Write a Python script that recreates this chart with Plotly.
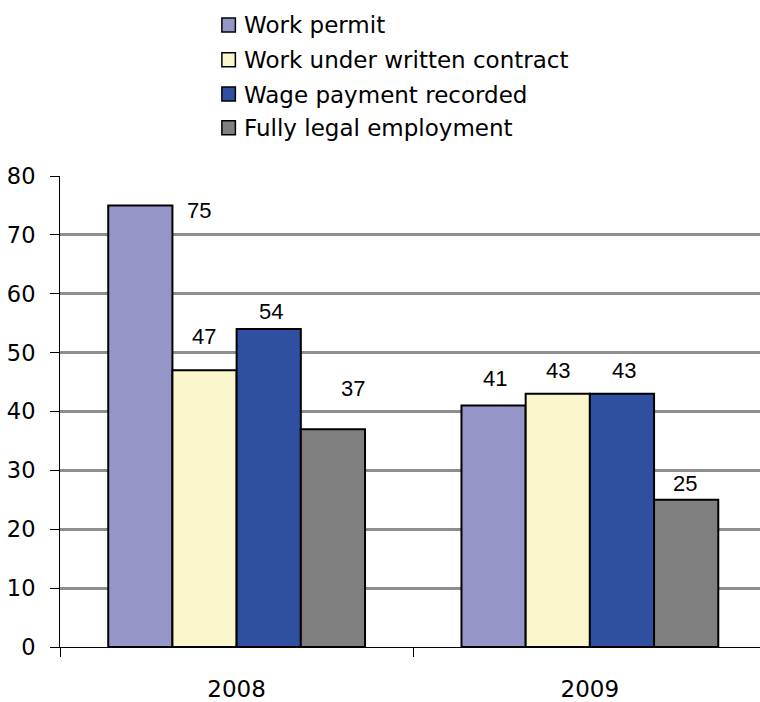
import plotly.graph_objects as go

# Survey results (%), by year
years = ["2008", "2009"]
series_names = [
    "Work permit",
    "Work under written contract",
    "Wage payment recorded",
    "Fully legal employment",
]
work_permit = [75, 41]
written_contract = [47, 43]
wage_recorded = [54, 43]
fully_legal = [37, 25]
y_ticks = [0, 10, 20, 30, 40, 50, 60, 70, 80]

values = [work_permit, written_contract, wage_recorded, fully_legal]
colors = ["#9595C8", "#FAF7CD", "#2F4FA1", "#808080"]

# Value-label nudges (px right, px up) from the top centre of each bar
label_nudge = [
    [(59, -5), (-1, 34), (2, 18), (20, 41)],
    [(1, 27), (0, 23), (2, 23), (-1, 16)],
]

W, H = 760, 702
L, R, T, B = 59.5, 760, 175.5, 649.5   # plot-area edges in px
BARGAP = 0.273
cat_px = 353.5
x_hi = -0.5 + (R - L) / cat_px

fig = go.Figure()
for name, vals, col in zip(series_names, values, colors):
    fig.add_trace(go.Bar(
        x=years, y=vals, name=name,
        marker=dict(color=col, line=dict(color="#000000", width=2)),
        showlegend=False, hoverinfo="x+y+name",
    ))

# Value labels
n = len(series_names)
for ci in range(len(years)):
    for si in range(n):
        v = values[si][ci]
        dx, dy = label_nudge[ci][si]
        xpos = ci + (si - (n - 1) / 2) * (1 - BARGAP) / n
        fig.add_annotation(
            x=xpos, y=v, xref="x", yref="y", text=str(v), showarrow=False,
            xanchor="center", yanchor="middle", xshift=dx, yshift=dy,
            font=dict(family="Liberation Sans, Arial", size=22, color="#000000"),
        )


def px_x(px):
    return (px - L) / (R - L)


def px_y(py):
    return (B - py) / (B - T)


# Legend drawn as swatches + labels above the plot
legend_rows = [23.5, 58.5, 93, 127]
for name, col, cy in zip(series_names, colors, legend_rows):
    fig.add_shape(
        type="rect", xref="paper", yref="paper",
        x0=px_x(221.5), x1=px_x(235), y0=px_y(cy + 7), y1=px_y(cy - 7),
        fillcolor=col, line=dict(color="#000000", width=1.5),
    )
    fig.add_annotation(
        x=px_x(242), y=px_y(cy + 0.5), xref="paper", yref="paper", text=name,
        showarrow=False, xanchor="left", yanchor="middle",
        font=dict(family="DejaVu Sans", size=23, color="#000000"),
    )

fig.update_layout(
    width=W, height=H,
    margin=dict(l=L, r=W - R, t=T, b=H - B, pad=0),
    paper_bgcolor="white", plot_bgcolor="white",
    barmode="group", bargap=BARGAP, bargroupgap=0,
    font=dict(family="DejaVu Sans", size=22, color="#000000"),
    showlegend=False,
)
fig.update_xaxes(
    type="category", range=[-0.5, x_hi],
    showline=True, linecolor="#000000", linewidth=1,
    ticks="outside", tickson="boundaries", ticklen=9, tickcolor="#000000",
    tickfont=dict(family="DejaVu Sans", size=23), ticklabelstandoff=21,
    showgrid=False, zeroline=False,
)
fig.update_yaxes(
    range=[0, 80], tickvals=y_ticks,
    showline=True, linecolor="#000000", linewidth=1,
    ticks="outside", ticklen=9, tickcolor="#000000",
    tickfont=dict(family="DejaVu Sans", size=22.5), ticklabelstandoff=10,
    showgrid=True, gridcolor="#8E8E8E", gridwidth=2.5,
    zeroline=False,
)

fig.write_html("out.html")
